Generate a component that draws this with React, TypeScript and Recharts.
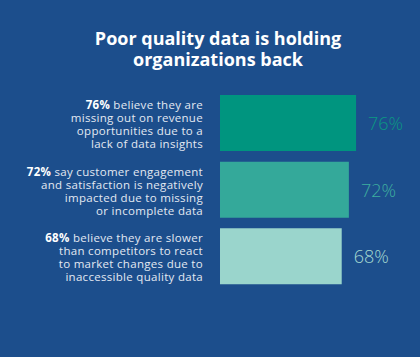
import { BarChart, Bar, XAxis, YAxis, Cell, LabelList } from 'recharts';

// Survey values (percent of respondents)
const statValues = [76, 72, 68];

// Bold lead-in for each statement
const statLeads = ['76%', '72%', '68%'];

// Statement text, one entry per line (first line follows the bold lead-in)
const statLines = [
  [' believe they are', 'missing out on revenue', 'opportunities due to a', 'lack of data insights'],
  [' say customer engagement', 'and satisfaction is negatively', 'impacted due to missing', 'or incomplete data'],
  [' believe they are slower', 'than competitors to react', 'to market changes due to', 'inaccessible quality data'],
];

const barColors = ['#00957f', '#34a99a', '#9ad5cc'];
const labelColors = ['#0b9983', '#3eae9f', '#a3d8d0'];

const TITLE = ['Poor quality data is holding', 'organizations back'];

const BG = '#1c4e8c';
const FONT = '"Open Sans", Lato, sans-serif';

const data = statValues.map((value, i) => ({ name: statLeads[i], value }));

const StatTick = ({ x, y, payload, index }: any) => {
  const i = typeof index === 'number' ? index : statLeads.indexOf(payload.value);
  const lines = statLines[i];
  const lineHeight = 13;
  const startY = y - ((lines.length - 1) * lineHeight) / 2;
  return (
    <text
      x={x}
      y={startY}
      textAnchor="end"
      dominantBaseline="central"
      fontFamily={FONT}
      fontSize={11.5}
      letterSpacing={0.3}
      fill="#e3e9f2"
    >
      {lines.map((line, k) => (
        <tspan key={k} x={x} y={startY + k * lineHeight}>
          {k === 0 && <tspan fontWeight="bold" fill="#ffffff">{statLeads[i]}</tspan>}
          {line}
        </tspan>
      ))}
    </text>
  );
};

const ValueLabel = ({ x, y, width, height, value, index }: any) => (
  <text
    x={x + width + 12}
    y={y + height / 2}
    dominantBaseline="central"
    fontFamily={FONT}
    fontSize={18}
    fontWeight={300}
    fill={labelColors[index]}
  >
    {value}%
  </text>
);

export default function App() {
  return (
    <div style={{ position: 'absolute', left: 0, top: 0, width: 420, height: 357, background: BG, overflow: 'hidden' }}>
      <div
        style={{
          position: 'absolute',
          top: 28,
          left: 8,
          width: 420,
          textAlign: 'center',
          color: '#ffffff',
          fontFamily: FONT,
          fontWeight: 700,
          fontSize: 18,
          lineHeight: '21px',
        }}
      >
        {TITLE.map((t) => (
          <div key={t}>{t}</div>
        ))}
      </div>
      <BarChart
        width={420}
        height={357}
        data={data}
        layout="vertical"
        margin={{ top: 90, right: 21, bottom: 67, left: 0 }}
        style={{ position: 'absolute', left: 0, top: 0 }}
      >
        <XAxis type="number" domain={[0, 100]} hide />
        <YAxis
          type="category"
          dataKey="name"
          width={220}
          axisLine={false}
          tickLine={false}
          tickSize={0}
          tickMargin={17}
          tick={<StatTick />}
        />
        <Bar dataKey="value" barSize={56} isAnimationActive={false}>
          {data.map((d, i) => (
            <Cell key={d.name} fill={barColors[i]} />
          ))}
          <LabelList dataKey="value" content={<ValueLabel />} />
        </Bar>
      </BarChart>
    </div>
  );
}
